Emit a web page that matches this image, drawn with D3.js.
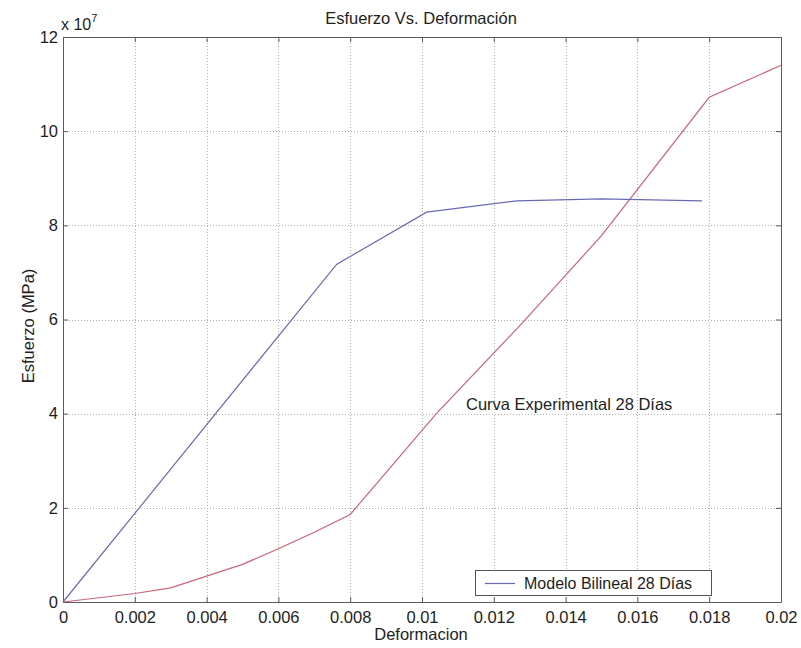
<!DOCTYPE html>
<html>
<head>
<meta charset="utf-8">
<script src="https://cdn.jsdelivr.net/npm/d3@7"></script>
<style>
  html, body { margin: 0; padding: 0; background: #fff; }
  svg { display: block; font-family: "Liberation Sans", Arial, sans-serif; }
</style>
</head>
<body>
<svg id="chart" width="801" height="648"></svg>
<script>
// Strain (deformación) vs stress (esfuerzo, in units of 1e7)
const bilinealStrain = [0, 0.00762, 0.01013, 0.01264, 0.015, 0.0178];
const bilinealStress = [0, 7.17, 8.28, 8.52, 8.56, 8.52];

const experimentalStrain = [0, 0.001, 0.002, 0.003, 0.004, 0.005, 0.006, 0.007, 0.008, 0.0104, 0.0127, 0.015, 0.018, 0.02];
const experimentalStress = [0, 0.09, 0.18, 0.30, 0.55, 0.80, 1.13, 1.48, 1.86, 4.0, 5.85, 7.78, 10.72, 11.4];

const xTicks = [0, 0.002, 0.004, 0.006, 0.008, 0.01, 0.012, 0.014, 0.016, 0.018, 0.02];
const yTicks = [0, 2, 4, 6, 8, 10, 12];

const svg = d3.select("#chart");
const plotL = 63, plotR = 781, plotT = 37, plotB = 602;

const x = d3.scaleLinear().domain([0, 0.02]).range([plotL, plotR]);
const y = d3.scaleLinear().domain([0, 12]).range([plotB, plotT]);

// dotted grid
const grid = svg.append("g").attr("stroke", "#b0b0b0").attr("stroke-width", 1).attr("stroke-dasharray", "1,2");
grid.selectAll("line.gx").data(xTicks.slice(1, -1)).join("line")
  .attr("x1", d => Math.round(x(d)) + 0.5).attr("x2", d => Math.round(x(d)) + 0.5)
  .attr("y1", plotT).attr("y2", plotB);
grid.selectAll("line.gy").data(yTicks.slice(1, -1)).join("line")
  .attr("y1", d => Math.round(y(d)) + 0.5).attr("y2", d => Math.round(y(d)) + 0.5)
  .attr("x1", plotL).attr("x2", plotR);

// axes with inward ticks on all four sides
const fmtX = d => d === 0 ? "0" : String(+d.toFixed(3));
const axisColor = "#5a5a5a";
const textColor = "#1e1e1e";
function styleAxis(g) {
  g.select(".domain").attr("stroke", axisColor);
  g.selectAll(".tick line").attr("stroke", axisColor);
  g.selectAll(".tick text").attr("fill", textColor).attr("font-size", 16.5)
    .attr("font-family", "Liberation Sans, Arial, sans-serif");
}
svg.append("g").attr("transform", `translate(0,${plotB})`)
  .call(d3.axisBottom(x).tickValues(xTicks).tickFormat(fmtX).tickSizeInner(-5).tickSizeOuter(0).tickPadding(9))
  .call(styleAxis);
svg.append("g").attr("transform", `translate(0,${plotT})`)
  .call(d3.axisTop(x).tickValues(xTicks).tickFormat("").tickSizeInner(-5).tickSizeOuter(0))
  .call(styleAxis);
svg.append("g").attr("transform", `translate(${plotL},0)`)
  .call(d3.axisLeft(y).tickValues(yTicks).tickFormat(d3.format("d")).tickSizeInner(-5).tickSizeOuter(0).tickPadding(5))
  .call(styleAxis);
svg.append("g").attr("transform", `translate(${plotR},0)`)
  .call(d3.axisRight(y).tickValues(yTicks).tickFormat("").tickSizeInner(-5).tickSizeOuter(0))
  .call(styleAxis);

// curves
const line = d3.line().x(d => x(d[0])).y(d => y(d[1]));
const experimental = d3.zip(experimentalStrain, experimentalStress);
const bilineal = d3.zip(bilinealStrain, bilinealStress);

svg.append("path").datum(experimental).attr("d", line)
  .attr("fill", "none").attr("stroke", "#cc6478").attr("stroke-width", 1.2);
svg.append("path").datum(bilineal).attr("d", line)
  .attr("fill", "none").attr("stroke", "#6a6ab4").attr("stroke-width", 1.2);

// texts
svg.append("text").attr("x", 421).attr("y", 24).attr("text-anchor", "middle")
  .attr("font-size", 16.5).attr("fill", textColor).text("Esfuerzo Vs. Deformación");
const exp = svg.append("text").attr("x", 61).attr("y", 30).attr("font-size", 16).attr("fill", textColor);
exp.append("tspan").text("x 10");
exp.append("tspan").attr("font-size", 11).attr("dy", -8).text("7");
svg.append("text").attr("x", 421).attr("y", 640).attr("text-anchor", "middle")
  .attr("font-size", 16.5).attr("fill", textColor).text("Deformacion");
svg.append("text").attr("transform", "translate(34,326) rotate(-90)").attr("text-anchor", "middle")
  .attr("font-size", 16.5).attr("fill", textColor).text("Esfuerzo (MPa)");
svg.append("text").attr("x", 466).attr("y", 410)
  .attr("font-size", 16.5).attr("fill", textColor).text("Curva Experimental 28 Días");

// legend
const lg = svg.append("g");
lg.append("rect").attr("x", 475.5).attr("y", 570.5).attr("width", 236).attr("height", 25)
  .attr("fill", "#fff").attr("stroke", "#555");
lg.append("line").attr("x1", 485).attr("x2", 515).attr("y1", 583.5).attr("y2", 583.5)
  .attr("stroke", "#6a6ab4").attr("stroke-width", 1.2);
lg.append("text").attr("x", 524).attr("y", 589).attr("font-size", 16).attr("fill", textColor)
  .text("Modelo Bilineal 28 Días");
</script>
</body>
</html>
